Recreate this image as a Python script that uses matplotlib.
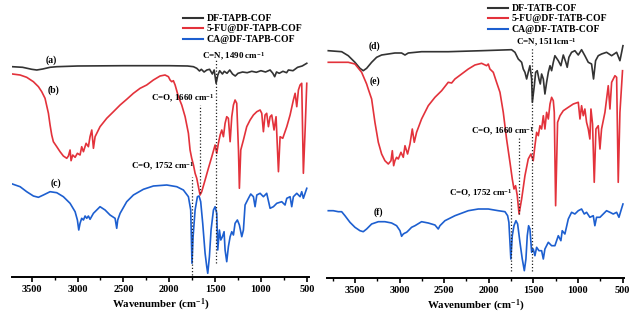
import numpy as np
import matplotlib
matplotlib.use("Agg")
import matplotlib.pyplot as plt
from matplotlib.ticker import MultipleLocator


# ==========================================================
# DONNÉES (unités arbitraires décalées)
# ==========================================================

# --- Panneau gauche : DF-TAPB-COF ---
WN_A = [3711, 3600, 3500, 3445, 3380, 3300, 3227, 3000, 2500, 2000, 1800, 1736, 1700,
        1670, 1650, 1620, 1590, 1560, 1530, 1510, 1489, 1470, 1450, 1420, 1400, 1370,
        1340, 1310, 1280, 1250, 1200, 1150, 1100, 1050, 1000, 950, 900, 870, 850, 830,
        800, 760, 720, 700, 650, 600, 550, 500]
Y_A = [210.3, 209.7, 207.7, 207.0, 208.0, 209.7, 210.3, 211.0, 211.3, 211.3, 211.0, 210.3, 208.7,
       206.0, 207.7, 205.0, 207.0, 207.7, 203.0, 207.0, 193.7, 202.0, 206.3, 203.0, 205.7, 203.7,
       207.0, 203.0, 201.0, 203.7, 205.0, 204.3, 205.7, 204.7, 206.3, 205.0, 207.0, 203.7, 200.3, 205.0,
       203.7, 205.7, 204.3, 207.0, 206.3, 209.7, 211.0, 213.7]

WN_B = [3711, 3627, 3555, 3482, 3427, 3391, 3355, 3318, 3300, 3282, 3264, 3227, 3191, 3155,
        3118, 3100, 3082, 3071, 3053, 3027, 3002, 2973, 2955, 2936, 2907, 2882, 2864, 2845,
        2827, 2809, 2755, 2682, 2609, 2536, 2464, 2391, 2318, 2246, 2173, 2100, 2046, 2009,
        1991, 1973, 1955, 1936, 1900, 1864, 1827, 1791, 1773, 1755, 1736, 1718, 1700, 1682,
        1664, 1646, 1609, 1573, 1536, 1500, 1482, 1464, 1445, 1427, 1409, 1391, 1373, 1355,
        1336, 1318, 1300, 1282, 1264, 1245, 1235, 1220, 1191, 1155, 1118, 1082, 1045, 1009,
        991, 973, 955, 937, 918, 900, 882, 857, 835, 809, 791, 762, 737, 718, 682, 646,
        627, 609, 591, 573, 555, 537, 518, 500]
Y_B = [203.0, 202.0, 199.7, 195.3, 190.3, 185.3, 178.7, 163.7, 152.0, 142.0, 135.3, 130.3, 125.3, 121.0,
       118.7, 121.0, 127.0, 116.3, 122.0, 119.7, 123.7, 122.0, 130.3, 125.3, 133.7, 130.3, 140.3, 147.0,
       128.7, 140.3, 150.3, 158.7, 165.3, 172.0, 177.7, 183.7, 188.7, 192.0, 197.0, 201.0, 202.0, 200.3,
       197.0, 195.3, 196.3, 192.0, 180.3, 172.0, 160.3, 143.7, 127.0, 118.7, 112.0, 103.7, 98.7, 90.3,
       82.0, 85.3, 97.0, 108.7, 120.3, 132.0, 123.7, 133.7, 142.0, 147.0, 140.3, 153.7, 160.3, 158.7,
       135.3, 160.3, 172.0, 177.0, 173.7, 127.0, 88.7, 127.0, 137.0, 150.3, 157.0, 162.0, 165.3, 167.0,
       163.7, 145.3, 162.0, 163.7, 150.3, 160.3, 162.0, 147.0, 160.3, 105.3, 140.3, 138.7, 145.3, 150.3, 162.0, 177.0,
       183.7, 170.3, 187.0, 192.0, 193.7, 103.7, 147.0, 193.7]

WN_C = [3711, 3627, 3555, 3482, 3427, 3373, 3300, 3227, 3155, 3082, 3027, 3002, 2987, 2973,
        2955, 2936, 2918, 2900, 2882, 2864, 2827, 2755, 2700, 2646, 2591, 2573, 2562, 2536,
        2464, 2391, 2282, 2173, 2027, 1918, 1846, 1791, 1766, 1759, 1752, 1740, 1718, 1693,
        1675, 1657, 1635, 1609, 1591, 1580, 1562, 1544, 1518, 1500, 1482, 1471, 1453, 1438,
        1420, 1402, 1391, 1373, 1355, 1336, 1318, 1300, 1282, 1257, 1235, 1209, 1191, 1173,
        1136, 1111, 1082, 1064, 1045, 1009, 973, 937, 900, 864, 827, 773, 737, 718, 682,
        664, 646, 609, 573, 555, 537, 500]
Y_C = [93.0, 90.3, 85.3, 81.0, 79.7, 82.0, 85.3, 84.3, 80.3, 73.7, 65.3, 57.0, 47.0, 53.7,
       58.7, 57.0, 61.0, 58.7, 61.0, 57.7, 63.7, 70.3, 67.0, 62.0, 58.7, 48.7, 57.0, 63.7,
       75.3, 82.0, 87.7, 91.0, 92.0, 90.3, 87.0, 80.3, 67.0, 40.3, 13.7, 40.3, 67.0, 80.3,
       81.0, 75.3, 53.7, 23.7, 10.3, 3.7, 20.3, 47.0, 67.0, 70.3, 63.7, 27.0, 47.0, 37.0,
       40.3, 45.3, 27.0, 15.3, 30.3, 40.3, 45.3, 42.0, 53.7, 57.0, 52.0, 40.3, 47.0, 72.0,
       78.7, 83.0, 80.3, 70.3, 82.0, 83.7, 80.3, 83.7, 68.7, 70.3, 73.7, 75.3, 72.0, 78.7, 80.3,
       70.3, 80.3, 83.7, 80.3, 85.3, 78.7, 88.7]

# --- Panneau droit : DF-TATB-COF ---
WN_D = [3799, 3649, 3575, 3500, 3444, 3407, 3369, 3313, 3257, 3201, 3052, 2977, 2939, 2902,
        2753, 2454, 2080, 1744, 1706, 1669, 1631, 1613, 1594, 1575, 1557, 1538, 1519, 1511,
        1489, 1474, 1456, 1437, 1422, 1407, 1388, 1370, 1351, 1332, 1313, 1295, 1276, 1258,
        1220, 1191, 1164, 1138, 1120, 1101, 1071, 1034, 996, 959, 922, 884, 847, 825, 802,
        772, 735, 679, 622, 566, 529, 495]
Y_D = [227.3, 226.3, 222.3, 215.7, 209.7, 207.3, 209.7, 215.7, 220.7, 223.0, 225.0, 225.0, 223.0, 225.0,
       226.3, 226.3, 227.3, 228.3, 225.7, 219.0, 215.7, 209.0, 205.7, 199.0, 205.7, 212.3, 199.0, 175.7,
       192.3, 205.7, 207.3, 199.0, 194.0, 204.0, 199.0, 184.0, 195.7, 205.7, 212.3, 207.3, 215.7, 222.3,
       217.3, 212.3, 223.0, 216.3, 210.7, 220.7, 225.7, 227.3, 223.0, 228.3, 222.3, 215.7, 214.0, 199.0, 217.3,
       222.3, 224.0, 225.7, 222.3, 225.7, 217.3, 232.3]

WN_E = [3799, 3575, 3500, 3425, 3369, 3351, 3313, 3276, 3238, 3201, 3164, 3126, 3096, 3081,
        3066, 3052, 3033, 3014, 2984, 2958, 2939, 2910, 2883, 2857, 2835, 2809, 2753, 2678,
        2603, 2528, 2454, 2416, 2379, 2304, 2229, 2155, 2080, 2024, 2005, 1987, 1949, 1912,
        1874, 1837, 1800, 1762, 1736, 1717, 1699, 1680, 1660, 1631, 1594, 1557, 1527, 1501,
        1482, 1463, 1444, 1426, 1407, 1388, 1370, 1351, 1332, 1313, 1295, 1276, 1265, 1250,
        1228, 1201, 1164, 1108, 1052, 996, 977, 959, 940, 922, 903, 884, 866, 854, 836,
        817, 798, 772, 753, 735, 697, 660, 641, 622, 585, 566, 548, 529, 500]
Y_E = [215.7, 215.7, 214.0, 205.7, 194.0, 189.0, 179.0, 155.7, 135.7, 124.0, 117.3, 114.0, 117.3, 127.3,
       112.3, 117.3, 120.7, 119.0, 125.7, 120.7, 132.3, 124.0, 134.0, 149.0, 135.7, 145.7, 159.0, 172.3,
       180.7, 187.3, 195.7, 195.0, 199.0, 204.0, 209.0, 213.0, 214.7, 212.3, 214.0, 209.0, 205.7, 195.7,
       185.7, 165.7, 139.0, 115.7, 99.0, 89.0, 92.3, 82.3, 64.0, 79.0, 102.3, 119.0, 124.0, 117.3,
       132.3, 145.7, 142.3, 152.3, 149.0, 162.3, 149.0, 165.7, 159.0, 174.0, 180.7, 177.3, 165.7, 72.3,
       155.7, 162.3, 167.3, 170.7, 174.0, 175.7, 159.0, 172.3, 162.3, 169.0, 155.7, 149.0, 139.0, 169.0, 154.0,
       95.7, 149.0, 152.3, 129.0, 149.0, 165.7, 192.3, 169.0, 195.7, 202.3, 200.7, 95.7, 165.7, 207.3]

WN_F = [3799, 3743, 3687, 3649, 3612, 3556, 3500, 3444, 3407, 3369, 3313, 3238, 3164, 3089,
        3033, 2995, 2977, 2958, 2939, 2921, 2902, 2865, 2827, 2753, 2678, 2603, 2566, 2547,
        2491, 2379, 2229, 2117, 2005, 1893, 1818, 1788, 1774, 1762, 1752, 1736, 1717, 1695,
        1676, 1650, 1624, 1601, 1583, 1568, 1553, 1538, 1519, 1501, 1482, 1463, 1437, 1407,
        1388, 1370, 1332, 1295, 1258, 1220, 1191, 1176, 1146, 1108, 1071, 1034, 996, 959,
        929, 903, 866, 828, 810, 791, 753, 716, 679, 641, 604, 566, 540, 518, 495]
Y_F = [67.3, 67.3, 66.3, 66.3, 62.3, 55.7, 50.7, 47.3, 46.3, 49.0, 54.0, 56.3, 56.3, 55.0,
       52.3, 47.3, 41.7, 44.0, 45.0, 45.7, 47.3, 50.7, 52.3, 56.3, 55.0, 53.0, 49.0, 52.3,
       57.3, 62.3, 67.3, 69.0, 69.0, 67.3, 66.3, 62.3, 55.7, 35.7, 19.0, 42.3, 52.3, 57.3,
       54.0, 35.7, 19.0, 7.3, 19.0, 42.3, 52.3, 49.0, 25.7, 29.0, 22.3, 30.7, 27.3, 27.3,
       19.0, 29.0, 35.7, 32.3, 32.3, 42.3, 37.3, 47.3, 44.0, 59.0, 65.7, 64.0, 67.3, 69.0,
       64.0, 65.7, 60.7, 62.3, 52.3, 60.7, 60.7, 64.0, 67.3, 65.7, 64.0, 65.7, 60.7, 67.3, 74.0]

LABELS_LEFT = ["DF-TAPB-COF", "5-FU@DF-TAPB-COF", "CA@DF-TAPB-COF"]
LABELS_RIGHT = ["DF-TATB-COF", "5-FU@DF-TATB-COF", "CA@DF-TATB-COF"]
CURVE_TAGS_LEFT = ["(a)", "(b)", "(c)"]
CURVE_TAGS_RIGHT = ["(d)", "(e)", "(f)"]

# lignes pointillées : (nombre d'onde, y bas, y haut, texte)
MARKS_LEFT = [(1490, 14, 217, "C=N, 1490 cm$^{-1}$"),
              (1660, 84, 172, "C=O, 1660 cm$^{-1}$"),
              (1752, 2, 100, "C=O, 1752 cm$^{-1}$")]
MARKS_RIGHT = [(1511, 7, 231, "C=N, 1511cm$^{-1}$"),
               (1660, 64, 141, "C=O, 1660 cm$^{-1}$"),
               (1752, 7, 79, "C=O, 1752 cm$^{-1}$")]


# ==========================================================
# STYLE
# ==========================================================

COLORS = ["#333333", "#e3323b", "#1d5fd0"]
SERIF = "Liberation Serif"

plt.rcParams["font.family"] = SERIF
plt.rcParams["font.weight"] = "bold"
plt.rcParams["mathtext.fontset"] = "custom"
plt.rcParams["mathtext.rm"] = SERIF + ":bold"
plt.rcParams["mathtext.it"] = SERIF + ":bold"
plt.rcParams["mathtext.default"] = "rm"


def style_axis(ax, xlim, ylim):
    ax.set_xlim(*xlim)
    ax.set_ylim(*ylim)
    for side in ["left", "right", "top"]:
        ax.spines[side].set_visible(False)
    ax.spines["bottom"].set_linewidth(1.4)
    ax.set_yticks([])
    ax.xaxis.set_major_locator(MultipleLocator(500))
    ax.xaxis.set_minor_locator(MultipleLocator(250))
    ax.tick_params(axis="x", which="major", length=3.5, width=1.2, labelsize=7.5, pad=2)
    ax.tick_params(axis="x", which="minor", length=2, width=1.0)
    for lab in ax.get_xticklabels():
        lab.set_fontweight("bold")
    ax.set_xlabel("Wavenumber (cm$^{-1}$)", fontsize=7.8, fontweight="bold", labelpad=2)
    ax.patch.set_alpha(0)


def draw_panel(ax, curves, labels, tags, tag_pos, marks, mark_pos):
    lines = []
    for (wn, y), col, lab in zip(curves, COLORS, labels):
        ln, = ax.plot(wn, y, color=col, lw=1.2, label=lab)
        lines.append(ln)
    for tag, (x, y) in zip(tags, tag_pos):
        ax.text(x, y, tag, fontsize=7, fontweight="bold", ha="center", va="center")
    for (wn, y0, y1, txt), (x, y) in zip(marks, mark_pos):
        ax.plot([wn, wn], [y0, y1], color="#222222", lw=0.9, ls=(0, (1, 1.6)))
        ax.text(x, y, txt, fontsize=6.5, fontweight="bold", ha="center", va="center")
    return lines


# ==========================================================
# FIGURE
# ==========================================================

fig = plt.figure(figsize=(6.29, 3.15), dpi=100)
W, H = 629, 315

ax1 = fig.add_axes([12.3 / W, 1 - 277 / H, (308.6 - 12.3) / W, 267 / H])
ax2 = fig.add_axes([327.3 / W, 1 - 278 / H, (624.3 - 327.3) / W, 274 / H])

l1 = draw_panel(ax1, [(WN_A, Y_A), (WN_B, Y_B), (WN_C, Y_C)], LABELS_LEFT, CURVE_TAGS_LEFT,
                [(3282, 217), (3264, 187), (3235, 94)],
                MARKS_LEFT, [(1305, 220), (1850, 178), (2068, 110)])
l2 = draw_panel(ax2, [(WN_D, Y_D), (WN_E, Y_E), (WN_F, Y_F)], LABELS_RIGHT, CURVE_TAGS_RIGHT,
                [(3276, 232), (3276, 197), (3242, 66)],
                MARKS_RIGHT, [(1359, 235), (1841, 146), (2088, 84)])

style_axis(ax1, (3712, 480), (0, 267))
style_axis(ax2, (3810, 480), (0, 274))

for ax, pos in [(ax1, (183 / W, 1 - 14 / H)), (ax2, (488 / W, 1 - 4 / H))]:
    leg = ax.legend(loc="upper left", bbox_to_anchor=pos, bbox_transform=fig.transFigure,
                    frameon=False, fontsize=7, handlelength=2.1, handletextpad=0.3,
                    labelspacing=0.15, borderpad=0, borderaxespad=0)
    for t in leg.get_texts():
        t.set_fontweight("bold")
    for h in leg.get_lines():
        h.set_linewidth(1.5)

fig.savefig("out.png", dpi=100)
